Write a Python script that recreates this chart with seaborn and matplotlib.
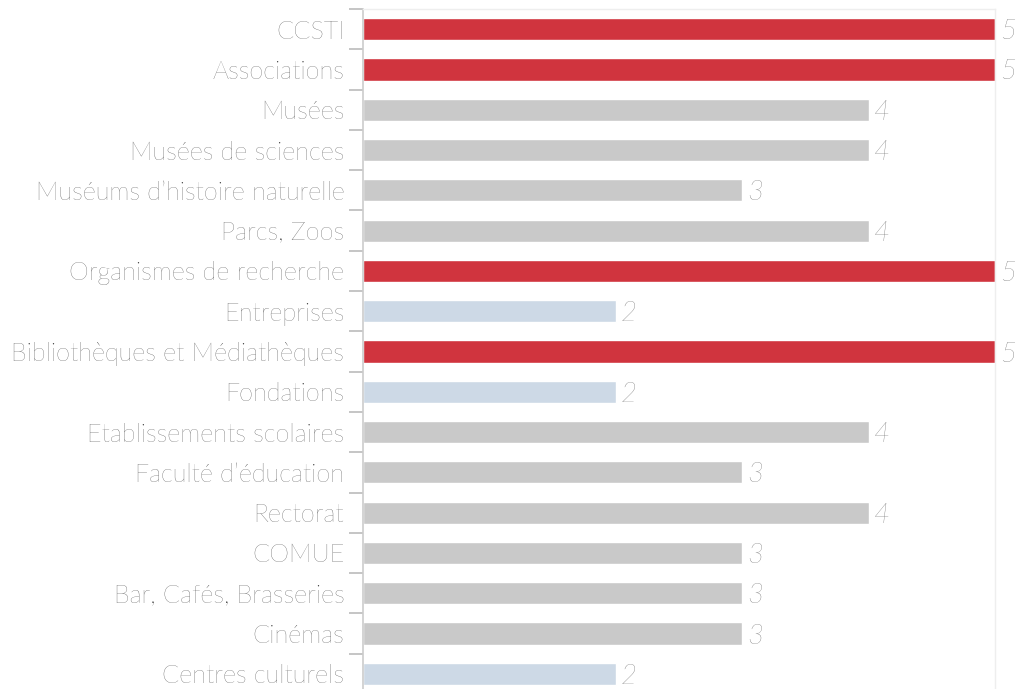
import matplotlib
matplotlib.use('Agg')
import matplotlib.pyplot as plt
import seaborn as sns
import numpy as np

categories = ['CCSTI', 'Associations', 'Musées', 'Musées de sciences',
              "Muséums d\u2019histoire naturelle", 'Parcs, Zoos',
              'Organismes de recherche', 'Entreprises',
              'Bibliothèques et Médiathèques', 'Fondations',
              'Etablissements scolaires', "Faculté d\u2019éducation", 'Rectorat',
              'COMUE', 'Bar, Cafés, Brasseries', 'Cinémas', 'Centres culturels']
values = [5, 5, 4, 4, 3, 4, 5, 2, 5, 2, 4, 3, 4, 3, 3, 3, 2]

color_map = {5: '#d0343e', 4: '#c9c9c9', 3: '#c9c9c9', 2: '#cdd9e6'}
colors = [color_map[v] for v in values]

sns.set_style('white')
plt.rcParams['font.family'] = ['Lato', 'DejaVu Sans']

fig = plt.figure(figsize=(10.19, 6.89), dpi=100)
ax = fig.add_axes([363 / 1019, 1 - 694 / 689, 632 / 1019, 685 / 689])

sns.barplot(x=values, y=categories, hue=categories, palette=colors,
            legend=False, orient='h', width=0.55, ax=ax, saturation=1)

ax.set_xlim(0, 5)
ax.set_ylim(len(categories) - 0.5, -0.5)
ax.set_xlabel('')
ax.set_ylabel('')
ax.set_xticks([])

ax.set_yticks(range(len(categories)))
ax.set_yticklabels(categories, fontsize=18.2, color='#3a3a3a', fontweight='light')
ax.tick_params(axis='y', which='major', length=0, pad=13.5, left=True)
ax.set_yticks(np.arange(-0.5, len(categories), 1), minor=True)
ax.tick_params(axis='y', which='minor', length=10, width=1.2, color='#bbbbbb', left=True)

for side in ['top', 'right']:
    ax.spines[side].set_color('#eeeeee')
    ax.spines[side].set_linewidth(1)
ax.spines['bottom'].set_visible(False)
ax.spines['left'].set_color('#cccccc')
ax.spines['left'].set_linewidth(1.2)

for i, v in enumerate(values):
    ax.text(v + 0.04, i, str(v), va='center_baseline', ha='left', fontsize=20,
            style='italic', color='#5e5e5e', fontweight='light', clip_on=False)

fig.savefig('out.png', dpi=100)
